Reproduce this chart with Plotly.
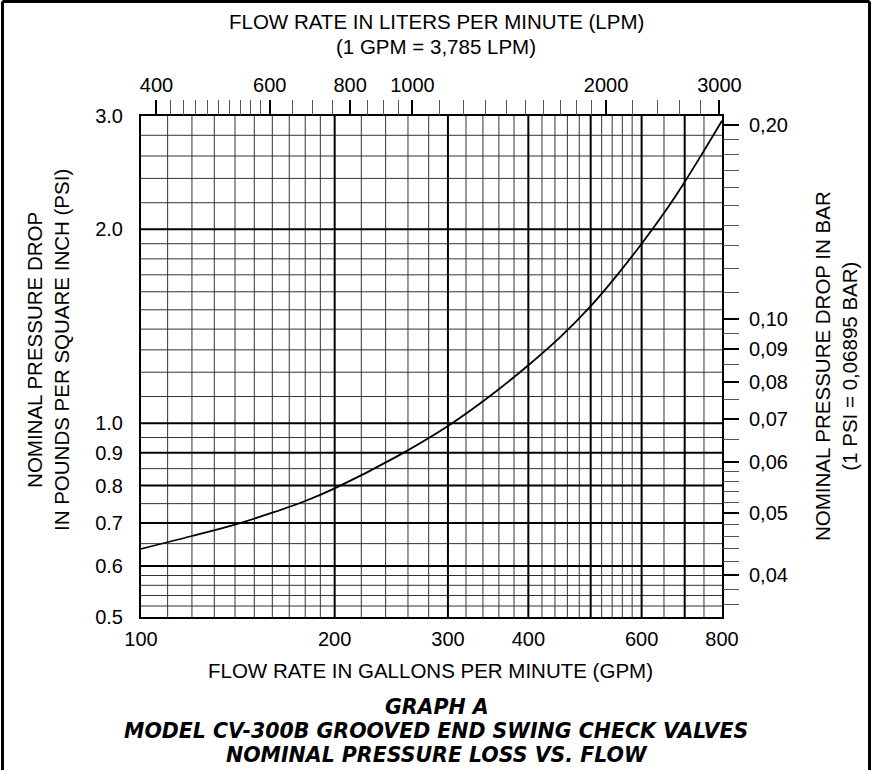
import math
import plotly.graph_objects as go

# ---------------- data ----------------
gpm = [100, 120, 140, 160, 180, 200, 250, 300, 350, 400, 450, 500, 550, 600, 650,
       700, 750, 800]
psi = [0.638, 0.668, 0.696, 0.726, 0.757, 0.792, 0.888, 0.99, 1.105, 1.23, 1.365,
       1.52, 1.70, 1.90, 2.12, 2.37, 2.65, 2.95]

gpm_ticks = [100, 200, 300, 400, 600, 800]
gpm_ticktext = ["100", "200", "300", "400", "600", "800"]
psi_ticks = [0.5, 0.6, 0.7, 0.8, 0.9, 1.0, 2.0, 3.0]
psi_ticktext = ["0.5", "0.6", "0.7", "0.8", "0.9", "1.0", "2.0", "3.0"]

lpm_major = [400, 600, 800, 1000, 2000, 3000]
lpm_ticktext = ["400", "600", "800", "1000", "2000", "3000"]
lpm_minor = [420, 440, 460, 480, 500, 520, 540, 560, 580, 650, 700, 750, 850, 900,
             950, 1100, 1200, 1300, 1400, 1500, 1600, 1700, 1800, 1900, 2200, 2400,
             2600, 2800]

bar_major = [0.04, 0.05, 0.06, 0.07, 0.08, 0.09, 0.10, 0.20]
bar_ticktext = ["0,04", "0,05", "0,06", "0,07", "0,08", "0,09", "0,10", "0,20"]
bar_minor = [0.036, 0.038, 0.042, 0.044, 0.046, 0.048, 0.052, 0.054, 0.056, 0.058,
             0.065, 0.075, 0.085, 0.095, 0.11, 0.12, 0.13, 0.14, 0.15, 0.16, 0.17,
             0.18, 0.19]

grid_x_thin = [110, 120, 130, 140, 150, 160, 170, 180, 190, 220, 240, 260, 280, 320,
               340, 360, 380, 420, 440, 460, 480, 520, 540, 560, 580, 650, 750]
grid_x_thick = [200, 300, 400, 500, 600, 700]
grid_y_thin = [0.52, 0.54, 0.56, 0.58, 0.65, 0.75, 0.85, 0.95, 1.1, 1.2, 1.3, 1.4,
               1.5, 1.6, 1.7, 1.8, 1.9, 2.2, 2.4, 2.6, 2.8]
grid_y_thick = [0.6, 0.7, 0.8, 0.9, 1.0, 2.0]

x_range = [100, 800]
y_range = [0.5, 3.0]
GPM_TO_LPM = 3.785
PSI_TO_BAR = 0.06895

# ---------------- layout geometry ----------------
W, H = 872, 770
L, R, T, B = 141, 150, 116, 153
PW, PH = W - L - R, H - T - B
FONT = "Liberation Sans, Arial, Helvetica, sans-serif"
BOLD_FONT = "DejaVu Sans, Liberation Sans, Arial, sans-serif"


def px2x(px):
    return (px - L) / PW


def py2y(py):
    return (H - B - py) / PH


def vlines(vals):
    xs, ys = [], []
    for v in vals:
        xs += [v, v, None]
        ys += [y_range[0], y_range[1], None]
    return xs, ys


def hlines(vals):
    xs, ys = [], []
    for v in vals:
        xs += [x_range[0], x_range[1], None]
        ys += [v, v, None]
    return xs, ys


fig = go.Figure()

for vals, fn, w, c in [(grid_x_thin, vlines, 1, "#333333"),
                       (grid_y_thin, hlines, 1, "#333333"),
                       (grid_x_thick, vlines, 2, "#000000"),
                       (grid_y_thick, hlines, 2, "#000000")]:
    xs, ys = fn(vals)
    fig.add_trace(go.Scatter(x=xs, y=ys, mode="lines", line=dict(color=c, width=w),
                             hoverinfo="skip", showlegend=False))

fig.add_trace(go.Scatter(x=gpm, y=psi, mode="lines",
                         line=dict(color="black", width=1.8, shape="spline", smoothing=1.0),
                         showlegend=False))

# invisible helpers so secondary axes are attached
fig.add_trace(go.Scatter(x=lpm_major, y=[1.0] * len(lpm_major), xaxis="x2", yaxis="y",
                         mode="markers", marker=dict(opacity=0), hoverinfo="skip",
                         showlegend=False))
fig.add_trace(go.Scatter(x=[200] * len(bar_major), y=bar_major, xaxis="x", yaxis="y2",
                         mode="markers", marker=dict(opacity=0), hoverinfo="skip",
                         showlegend=False))

tickfont = dict(family=FONT, size=20, color="black")

fig.update_layout(
    width=W, height=H,
    margin=dict(l=L, r=R, t=T, b=B, pad=0),
    paper_bgcolor="white", plot_bgcolor="white",
    showlegend=False,
    font=dict(family=FONT, color="black"),
    xaxis=dict(type="log", range=[math.log10(x_range[0]), math.log10(x_range[1])],
               tickmode="array", tickvals=gpm_ticks, ticktext=gpm_ticktext,
               ticks="", showgrid=False, zeroline=False,
               showline=True, linecolor="black", linewidth=2, mirror=True,
               tickfont=tickfont, ticklabelstandoff=3),
    yaxis=dict(type="log", range=[math.log10(y_range[0]), math.log10(y_range[1])],
               tickmode="array", tickvals=psi_ticks, ticktext=psi_ticktext,
               ticks="", showgrid=False, zeroline=False,
               showline=True, linecolor="black", linewidth=2, mirror=True,
               tickfont=tickfont, ticklabelstandoff=12),
    xaxis2=dict(type="log", overlaying="x", side="top",
                range=[math.log10(x_range[0] * GPM_TO_LPM), math.log10(x_range[1] * GPM_TO_LPM)],
                tickmode="array", tickvals=lpm_major, ticktext=lpm_ticktext,
                ticks="outside", ticklen=15, tickwidth=2, tickcolor="black",
                showgrid=False, zeroline=False, showline=False,
                tickfont=tickfont, ticklabelstandoff=0,
                minor=dict(tickmode="array", tickvals=lpm_minor, ticks="outside",
                           ticklen=15, tickwidth=1, tickcolor="#555555", showgrid=False)),
    yaxis2=dict(type="log", overlaying="y", side="right",
                range=[math.log10(y_range[0] * PSI_TO_BAR), math.log10(y_range[1] * PSI_TO_BAR)],
                tickmode="array", tickvals=bar_major, ticktext=bar_ticktext,
                ticks="outside", ticklen=16, tickwidth=2, tickcolor="black",
                showgrid=False, zeroline=False, showline=False,
                tickfont=tickfont, ticklabelstandoff=6,
                minor=dict(tickmode="array", tickvals=bar_minor, ticks="outside",
                           ticklen=16, tickwidth=1, tickcolor="#555555", showgrid=False)),
)

title_font = dict(family=FONT, size=20.5, color="black")
bold_font = dict(family=BOLD_FONT, size=20.5, color="black")
annotations = [
    dict(text="FLOW RATE IN LITERS PER MINUTE (LPM)", x=px2x(436), y=py2y(22), font=title_font),
    dict(text="(1 GPM = 3,785 LPM)", x=px2x(436), y=py2y(46), font=title_font),
    dict(text="FLOW RATE IN GALLONS PER MINUTE (GPM)", x=px2x(430), y=py2y(670), font=title_font),
    dict(text="<b><i>GRAPH A</i></b>", x=px2x(437), y=py2y(707), font=bold_font),
    dict(text="<b><i>MODEL CV-300B GROOVED END SWING CHECK VALVES</i></b>", x=px2x(436),
         y=py2y(731), font=bold_font),
    dict(text="<b><i>NOMINAL PRESSURE LOSS VS. FLOW</i></b>", x=px2x(437), y=py2y(755),
         font=bold_font),
    dict(text="NOMINAL PRESSURE DROP<br>IN POUNDS PER SQUARE INCH (PSI)", x=px2x(48),
         y=py2y(350), textangle=-90, font=title_font),
    dict(text="NOMINAL PRESSURE DROP IN BAR<br>(1 PSI = 0,06895 BAR)", x=px2x(836),
         y=py2y(366), textangle=-90, font=title_font),
]
for a in annotations:
    fig.add_annotation(xref="paper", yref="paper", showarrow=False,
                       xanchor="center", yanchor="middle", **a)

# outer frame (open at bottom)
frame = dict(color="black", width=3)
fig.add_shape(type="line", xref="paper", yref="paper", x0=px2x(2.5), x1=px2x(2.5),
              y0=py2y(1.5), y1=py2y(H), line=frame)
fig.add_shape(type="line", xref="paper", yref="paper", x0=px2x(869.5), x1=px2x(869.5),
              y0=py2y(1.5), y1=py2y(H), line=frame)
fig.add_shape(type="line", xref="paper", yref="paper", x0=px2x(2.5), x1=px2x(869.5),
              y0=py2y(1.5), y1=py2y(1.5), line=frame)

fig.write_html("out.html", config={"displayModeBar": False},
               post_script="document.body.style.margin='0px';")
